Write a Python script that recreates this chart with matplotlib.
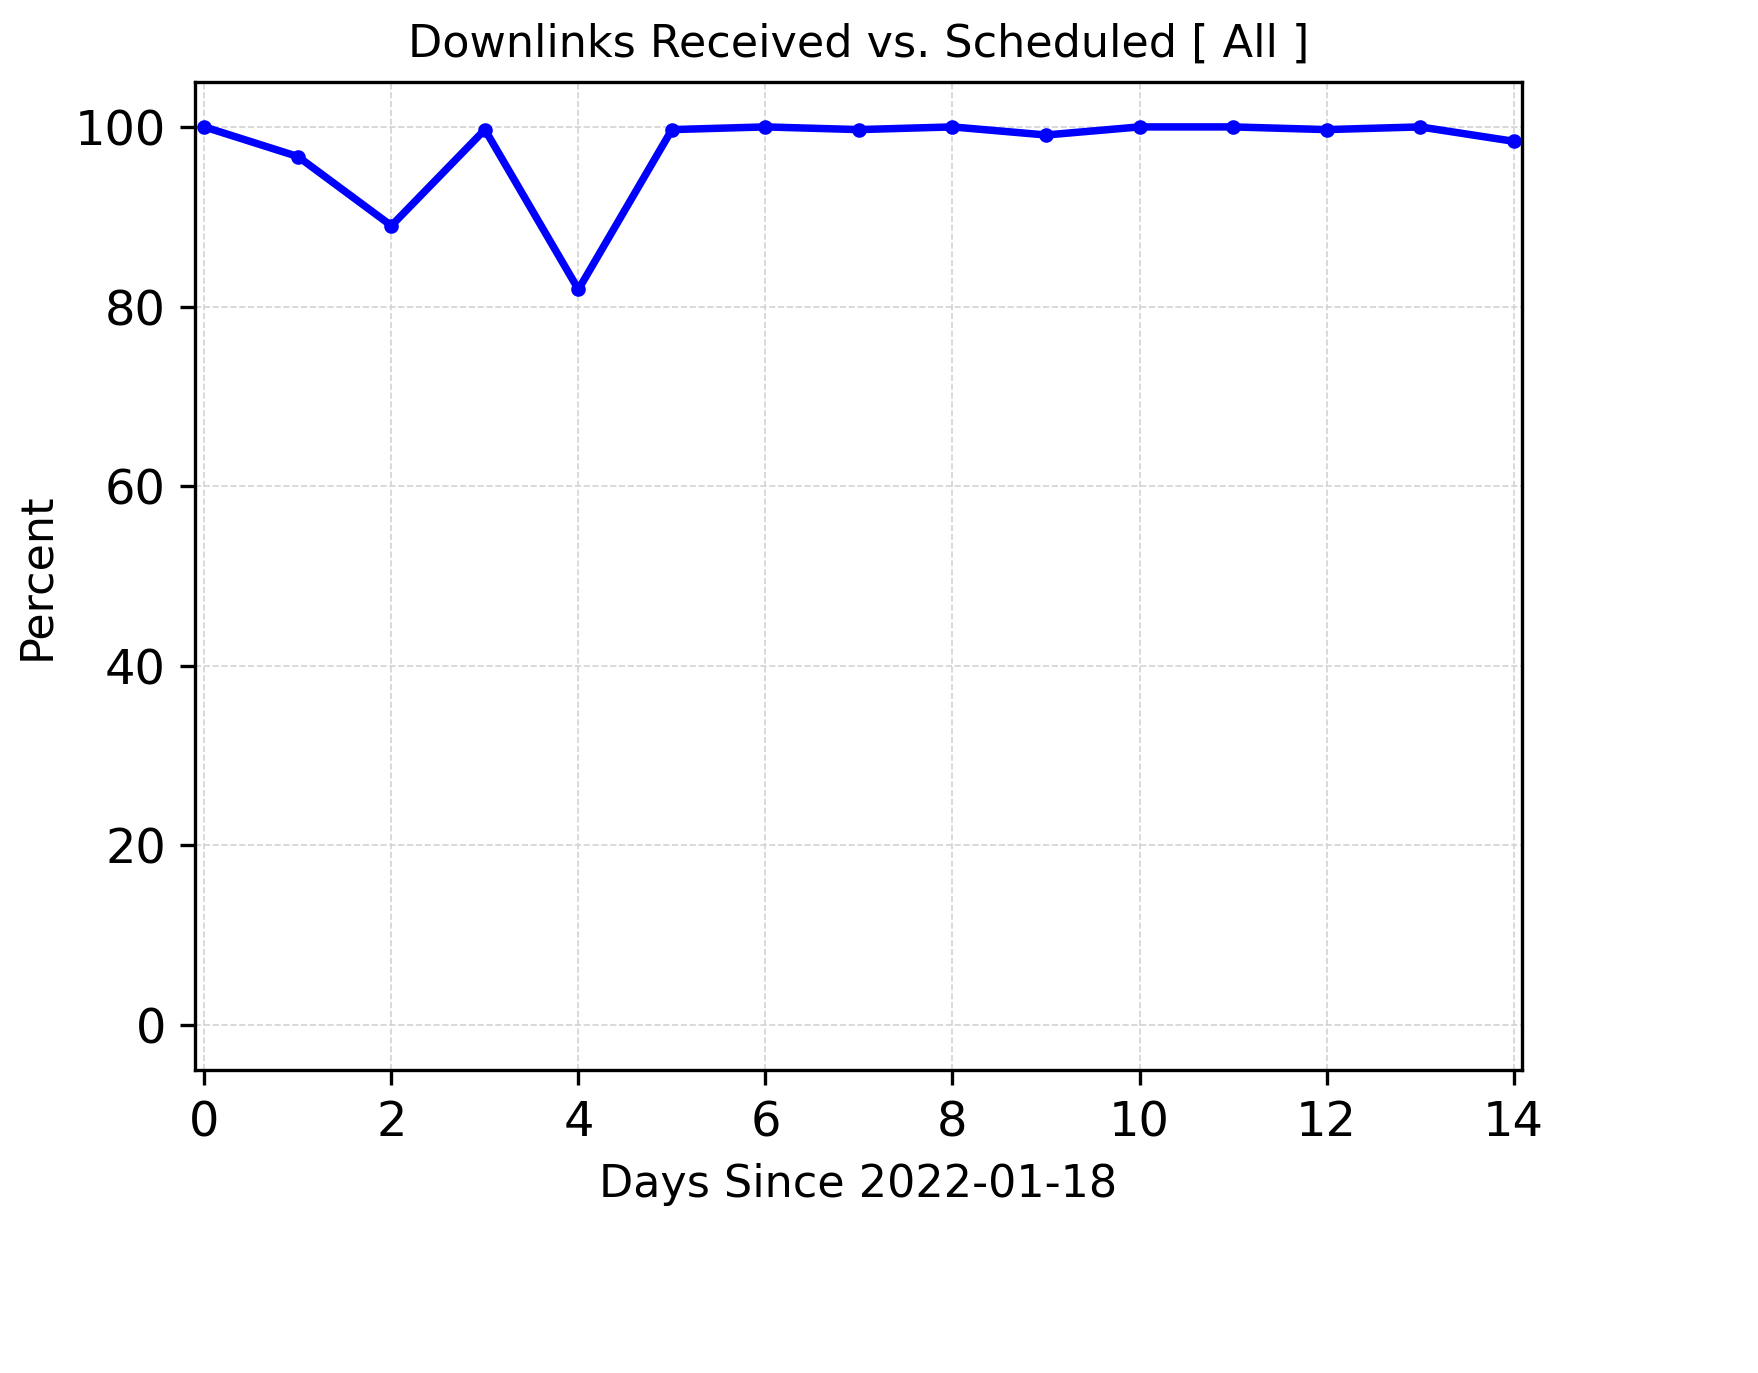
import numpy as np
import matplotlib
matplotlib.use('Agg')
import matplotlib.pyplot as plt

days = list(range(15))
percent = [100, 96.7, 89.0, 99.7, 81.9, 99.7, 100, 99.7, 100, 99.1, 100, 100, 99.7, 100, 98.4]

fig = plt.figure(figsize=(1758/300, 1373/300), dpi=300)
ax = fig.add_axes([195/1758, 1-1070/1373, (1522-195)/1758, (1070-82)/1373])
ax.plot(days, percent, color='blue', linewidth=1.8, marker='o', markersize=2.5)
ax.set_xlim(-0.1, 14.09)
ax.set_ylim(-5, 105)
ax.set_xticks(range(0, 15, 2))
ax.set_yticks(range(0, 101, 20))
ax.tick_params(labelsize=11.5)
ax.grid(True, linestyle='--', linewidth=0.4, color='lightgray')
ax.set_title('Downlinks Received vs. Scheduled [ All ]', fontsize=10.7)
ax.set_xlabel('Days Since 2022-01-18', fontsize=10.7)
ax.set_ylabel('Percent', fontsize=10.7)

fig.savefig('out.png', dpi=300)
